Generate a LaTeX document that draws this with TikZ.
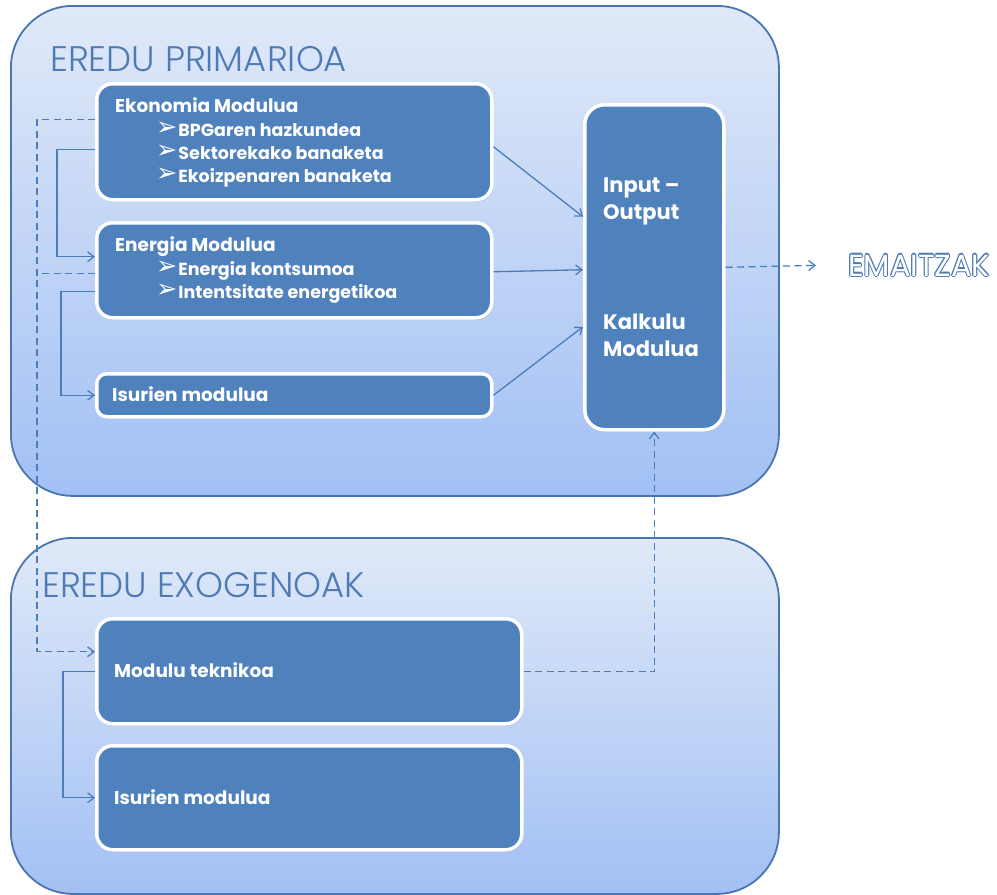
\documentclass[tikz,border=0pt]{standalone}
\usepackage{fontspec}
\setmainfont{Poppins}
\newfontfamily\titlefont{Poppins Light}
\newfontfamily\symfont{DejaVu Sans}
\usetikzlibrary{shadows,arrows.meta}
\definecolor{boxblue}{HTML}{4F81BD}
\definecolor{linecol}{HTML}{4A7EBB}
\definecolor{outerline}{HTML}{4A76B0}
\definecolor{topc}{HTML}{E0E9F8}
\definecolor{botc}{HTML}{A2C0F4}
\definecolor{titlec}{HTML}{4F7BB5}
\newcommand\bul{\raisebox{0.5pt}{\scalebox{1.45}{\symfont\bfseries\char"27A2}}\kern1pt}
\newcommand\oc[3]{\makebox[0pt][l]{\kern#1\raisebox{#2}{#3}}}
\newcommand\outl[1]{{\color{titlec}\oc{1.1pt}{0pt}{#1}\oc{-1.1pt}{0pt}{#1}\oc{0pt}{1.1pt}{#1}\oc{0pt}{-1.1pt}{#1}\oc{0.8pt}{0.8pt}{#1}\oc{-0.8pt}{0.8pt}{#1}\oc{0.8pt}{-0.8pt}{#1}\oc{-0.8pt}{-0.8pt}{#1}}{\color{white}#1}}
\begin{document}
\begin{tikzpicture}[x=1pt,y=-1pt,
  outer/.style={draw=outerline, line width=1.8pt, top color=topc, bottom color=botc, rounded corners=62pt, anchor=north west, inner sep=0pt},
  inbox/.style={draw=white, line width=3.5pt, fill=boxblue, rounded corners=#1, anchor=north west, inner sep=0pt,
    drop shadow={opacity=0.3, shadow xshift=1pt, shadow yshift=-2pt}},
  lbl/.style={font=\bfseries\fontsize{18.5}{18.5}\selectfont, text=white, inner sep=0pt, anchor=base west},
  blbl/.style={font=\bfseries\fontsize{17.5}{17.5}\selectfont, text=white, inner sep=0pt, anchor=base west},
  iolbl/.style={font=\bfseries\fontsize{21}{21}\selectfont, text=white, inner sep=0pt, anchor=base west},
  ttl/.style={font=\titlefont\fontsize{35.5}{35.5}\selectfont, text=titlec, inner sep=0pt, anchor=base west},
  conn/.style={draw=linecol, line width=1.3pt, -{Straight Barb[angle=75:8pt, line width=1.3pt]}},
  dconn/.style={conn, dash pattern=on 7pt off 4.5pt},
  dline/.style={draw=linecol, line width=1.3pt, dash pattern=on 7pt off 4.5pt}]
\useasboundingbox (0,0) rectangle (997,895);
\fill[white] (0,0) rectangle (997,895);
% containers
\node[outer, minimum width=768pt, minimum height=490pt] (prim) at (10,5) {};
\node[outer, minimum width=768pt, minimum height=356pt] (exo) at (10,537) {};
\node[ttl] (primt) at (50,71) {EREDU PRIMARIOA};
\node[ttl] (exot) at (42,597) {EREDU EXOGENOAK};
% inner boxes
\node[inbox=16pt, minimum width=395pt, minimum height=116pt] (eko) at (95,82) {};
\node[inbox=16pt, minimum width=395pt, minimum height=95pt] (ene) at (95,221) {};
\node[inbox=10pt, minimum width=395pt, minimum height=43pt] (isu) at (95,372) {};
\node[inbox=20pt, minimum width=139pt, minimum height=325pt] (io) at (583,103) {};
\node[inbox=16pt, minimum width=425pt, minimum height=105pt] (mt) at (95,617) {};
\node[inbox=16pt, minimum width=425pt, minimum height=104pt] (isu2) at (95,744) {};
% texts
\node[lbl] (ekot) at (115,112) {Ekonomia Modulua};
\node[blbl] (ekob1) at (156,136) {\bul BPGaren hazkundea};
\node[blbl] (ekob2) at (156,159) {\bul Sektorekako banaketa};
\node[blbl] (ekob3) at (156,182) {\bul Ekoizpenaren banaketa};
\node[lbl] (enet) at (115,251) {Energia Modulua};
\node[blbl] (eneb1) at (156,275) {\bul Energia kontsumoa};
\node[blbl] (eneb2) at (156,298) {\bul Intentsitate energetikoa};
\node[lbl] (isut) at (112,401) {Isurien modulua};
\node[iolbl] (io1) at (603,192) {Input –};
\node[iolbl] (io2) at (603,219) {Output};
\node[iolbl] (io3) at (603,329) {Kalkulu};
\node[iolbl] (io4) at (603,356) {Modulua};
\node[lbl] (mtt) at (114,677) {Modulu teknikoa};
\node[lbl] (isu2t) at (114,804) {Isurien modulua};
\node[font=\fontsize{30.5}{30.5}\selectfont, inner sep=0pt, anchor=base west] (em) at (848,276) {\outl{EMAITZAK}};
% connectors
\draw[conn] ([yshift=-5pt]eko.east) -- ([yshift=50.5pt]io.west);
\draw[conn] ([yshift=-1.5pt]ene.east) -- ([yshift=-2.5pt]io.west);
\draw[conn] (isu.east) -- ([yshift=-59.5pt]io.west);
\draw[conn] ([yshift=-8pt]eko.west) -- ++(-38,0) |- ([yshift=13.5pt]ene.west);
\draw[conn] ([yshift=-21.5pt]ene.west) -- ++(-34,0) |- (isu.west);
\draw[dconn] ([yshift=22pt]eko.west) -- ++(-58,0) |- ([yshift=19.5pt]mt.west);
\draw[dline] ([yshift=-3.5pt]ene.west) -- ++(-58,0);
\draw[dconn] ([yshift=-0.5pt]mt.east) -| (io.south);
\draw[dconn] (io.east) -- ([xshift=-32pt]em.west);
\draw[conn] ([yshift=-0.5pt]mt.west) -- ++(-32,0) |- (isu2.west);
\end{tikzpicture}
\end{document}
